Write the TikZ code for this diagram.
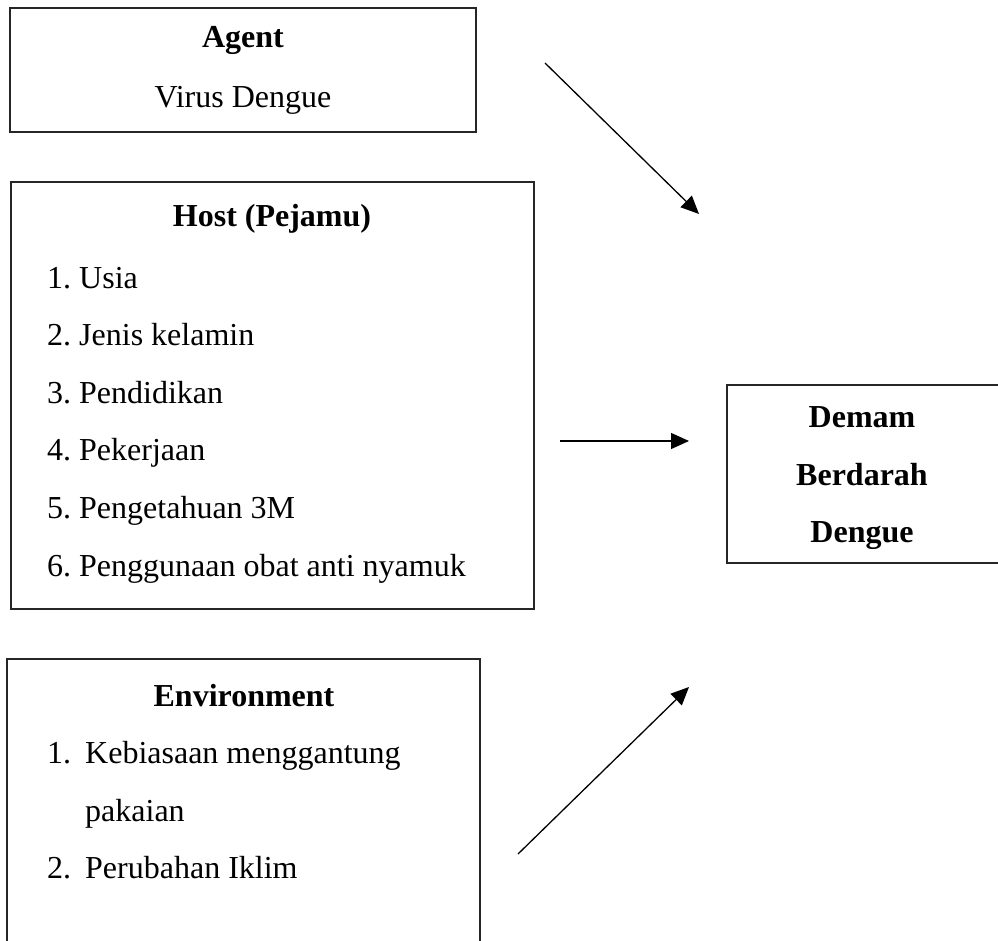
\documentclass[tikz,border=0pt]{standalone}
\usepackage{fontspec}
\setmainfont{Liberation Serif}
\usetikzlibrary{arrows.meta}
\begin{document}
\begin{tikzpicture}[x=1pt,y=-1pt,
  box/.style={draw=black!85,line width=1.4pt,inner sep=0pt,outer sep=0pt},
  txt/.style={anchor=base,inner sep=0pt,font=\fontsize{32}{38}\selectfont},
  btxt/.style={txt,font=\fontsize{32}{38}\selectfont\bfseries},
  ltxt/.style={txt,anchor=base west},
  conn/.style={line width=1.3pt,-{Triangle[length=18pt,width=16pt]}}]
\useasboundingbox (0,0) rectangle (998,941);
% boxes
\node[box,minimum width=466pt,minimum height=124pt] (agent) at (243,70) {};
\node[box,minimum width=523pt,minimum height=427pt] (host) at (272.5,395.5) {};
\node[box,minimum width=473pt,minimum height=300pt] (env) at (243.5,809) {};
\node[box,minimum width=275pt,minimum height=178pt] (dbd) at (864.5,474) {};
% agent texts
\node[btxt] (agentT) at (243,48) {Agent};
\node[txt] (agentV) at (243,108) {Virus Dengue};
% host texts
\node[btxt] (hostT) at (272,227) {Host (Pejamu)};
\node[ltxt] (h1) at (47,288) {1.\ Usia};
\node[ltxt] (h2) at (47,345) {2.\ Jenis kelamin};
\node[ltxt] (h3) at (47,403) {3.\ Pendidikan};
\node[ltxt] (h4) at (47,460) {4.\ Pekerjaan};
\node[ltxt] (h5) at (47,518) {5.\ Pengetahuan 3M};
\node[ltxt] (h6) at (47,576) {6.\ Penggunaan obat anti nyamuk};
% environment texts
\node[btxt] (envT) at (244,706) {Environment};
\node[ltxt] (e1n) at (47,763) {1.};
\node[ltxt] (e1) at (85,763) {Kebiasaan menggantung};
\node[ltxt] (e1b) at (85,821) {pakaian};
\node[ltxt] (e2n) at (47,878) {2.};
\node[ltxt] (e2) at (85,878) {Perubahan Iklim};
% outcome texts
\node[btxt] (d1) at (862,427) {Demam};
\node[btxt] (d2) at (862,485) {Berdarah};
\node[btxt] (d3) at (862,542) {Dengue};
% arrows
\coordinate (a1s) at (545,63);
\coordinate (a1e) at (699,214);
\coordinate (a2s) at (560,441);
\coordinate (a2e) at (689,441);
\coordinate (a3s) at (518,854);
\coordinate (a3e) at (689,687);
\draw[conn] (a1s) -- (a1e);
\draw[conn] (a2s) -- (a2e);
\draw[conn] (a3s) -- (a3e);
\end{tikzpicture}
\end{document}
